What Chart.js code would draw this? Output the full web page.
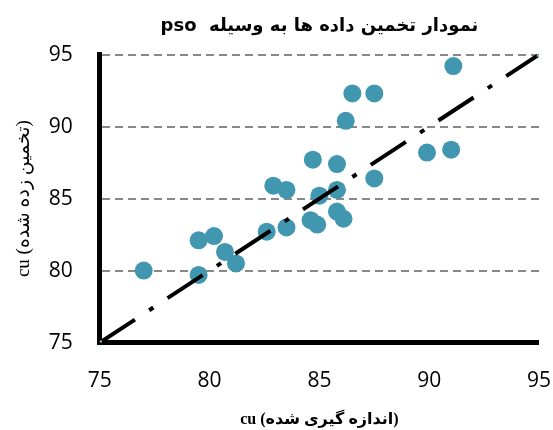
<!DOCTYPE html>
<html>
<head>
<meta charset="utf-8">
<script src="https://cdn.jsdelivr.net/npm/chart.js@4/dist/chart.umd.min.js"></script>
<style>
  body { margin: 0; background: #fff; }
</style>
</head>
<body>
<canvas id="grafico" width="553" height="430"></canvas>
<script>
// valores medidos (eje x) y estimados con pso (eje y)
var medidos   = [77.0, 79.5, 80.2, 79.5, 80.7, 81.2, 82.6, 83.5, 82.9, 83.5, 84.7, 84.6, 84.9, 85.0, 86.5, 87.5, 86.2, 85.8, 85.8, 85.8, 86.1, 87.5, 89.9, 91.0, 91.1];
var estimados = [80.0, 82.1, 82.4, 79.7, 81.3, 80.5, 82.7, 83.0, 85.9, 85.6, 87.7, 83.5, 83.2, 85.2, 92.3, 92.3, 90.4, 87.4, 85.6, 84.1, 83.6, 86.4, 88.2, 88.4, 94.2];
var ticks = [75, 80, 85, 90, 95];
var linea = [75, 95];

var titulo = "pso  نمودار تخمین داده ها به وسیله";
var tituloX = "cu (اندازه گیری شده)";
var tituloY = "cu (تخمین زده شده)";

var puntos = medidos.map((m, i) => ({x: m, y: estimados[i]}));
var lineaXY = linea.map(v => ({x: v, y: v}));

var fondo = {
  id: "fondo",
  beforeDraw(chart) {
    let ctx = chart.ctx;
    ctx.save();
    ctx.fillStyle = "#fff";
    ctx.fillRect(0, 0, chart.width, chart.height);
    ctx.restore();
  }
};

new Chart(document.getElementById("grafico"), {
  type: "scatter",
  data: {
    datasets: [
      {
        type: "line",
        data: lineaXY,
        order: 0,
        borderColor: "#000",
        borderWidth: 4,
        borderDash: [42, 17, 5, 17],
        pointStyle: "rect",
        pointRadius: 3,
        pointBackgroundColor: "#8ec9e2",
        pointBorderWidth: 0,
        fill: false
      },
      {
        data: puntos,
        order: 1,
        backgroundColor: "#4197b0",
        borderWidth: 0,
        pointRadius: 9,
        pointHoverRadius: 9
      }
    ]
  },
  options: {
    responsive: false,
    animation: false,
    layout: { padding: { left: 13, right: 0, bottom: 1 } },
    plugins: {
      legend: { display: false },
      tooltip: { enabled: false },
      title: {
        display: true,
        fullSize: false,
        text: titulo,
        color: "#000",
        font: { family: "'DejaVu Sans'", size: 18, weight: "bold" },
        padding: { top: 16, bottom: 17 }
      }
    },
    scales: {
      x: {
        type: "linear",
        min: 75,
        max: 95,
        afterBuildTicks: axis => { axis.ticks = ticks.map(v => ({value: v})); },
        grid: { display: false, tickLength: 24 },
        border: { display: true, color: "#000", width: 5 },
        ticks: {
          color: "#000",
          padding: 2,
          font: { family: "'Open Sans'", size: 21 }
        },
        title: {
          display: true,
          text: tituloX,
          color: "#000",
          font: { family: "'Liberation Serif', 'DejaVu Sans'", size: 16, weight: "bold" },
          padding: { top: 14, bottom: 0 }
        }
      },
      y: {
        type: "linear",
        min: 75,
        max: 95,
        afterBuildTicks: axis => { axis.ticks = ticks.map(v => ({value: v})); },
        grid: {
          color: "#888",
          lineWidth: 2,
          tickLength: 25,
          tickWidth: 0
        },
        border: { display: true, color: "#000", width: 5, dash: [8, 5] },
        ticks: {
          color: "#000",
          padding: 2,
          font: { family: "'Open Sans'", size: 21 }
        },
        title: {
          display: true,
          text: tituloY,
          color: "#000",
          font: { family: "'Liberation Serif', 'DejaVu Sans'", size: 19 },
          padding: { top: 0, bottom: 11 }
        }
      }
    }
  },
  plugins: [fondo]
});
</script>
</body>
</html>
